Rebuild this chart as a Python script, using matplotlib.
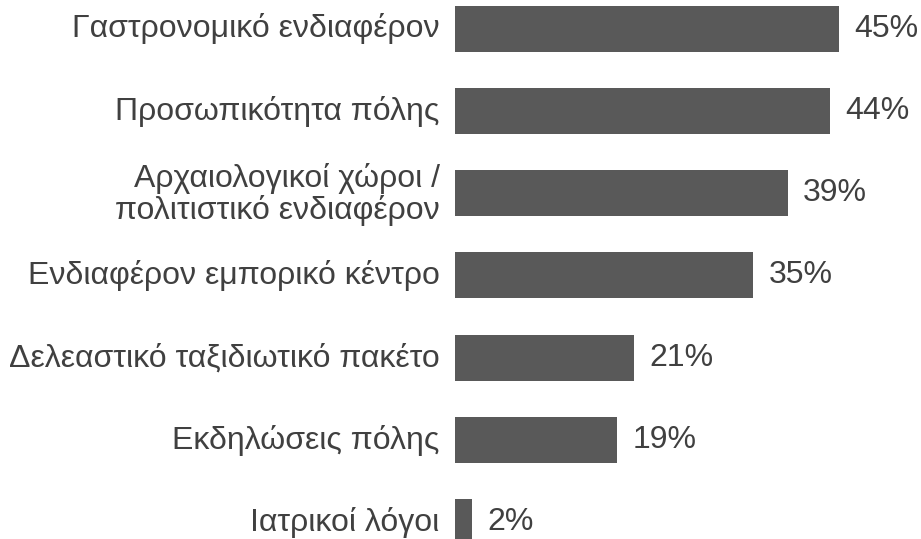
import matplotlib
matplotlib.use("Agg")
import matplotlib.pyplot as plt
import matplotlib.transforms as mtransforms

categories = [
    "Γαστρονομικό ενδιαφέρον",
    "Προσωπικότητα πόλης",
    "Αρχαιολογικοί χώροι /\nπολιτιστικό ενδιαφέρον",
    "Ενδιαφέρον εμπορικό κέντρο",
    "Δελεαστικό ταξιδιωτικό πακέτο",
    "Εκδηλώσεις πόλης",
    "Ιατρικοί λόγοι",
]
values = [45, 44, 39, 35, 21, 19, 2]
value_labels = ["45%", "44%", "39%", "35%", "21%", "19%", "2%"]

plt.rcParams['font.family'] = ['Liberation Sans', 'DejaVu Sans']

W, H = 921, 539
fig = plt.figure(figsize=(W / 100, H / 100), dpi=100)
left_px = 455
ax = fig.add_axes([left_px / W, 0, 1 - left_px / W, 1])

bar_color = "#595959"
text_color = "#404040"

step = 82.3
first = 28.5
pos = list(range(len(categories)))
ax.barh(pos, values, height=46 / step, color=bar_color)
ax.set_xlim(0, (W - left_px) / 8.527)
ax.set_ylim((H - first) / step, -first / step)

ax.set_yticks(pos)
ax.set_yticklabels(categories, fontsize=23, color=text_color, linespacing=1.05)
ax.tick_params(axis='y', length=0, pad=11)
ax.set_xticks([])
for s in ax.spines.values():
    s.set_visible(False)

shift = mtransforms.ScaledTranslation(0, 3 / 100, fig.dpi_scale_trans)
for lab in ax.get_yticklabels():
    lab.set_transform(lab.get_transform() + shift)

for p, v, lab in zip(pos, values, value_labels):
    ax.annotate(lab, xy=(v, p), xytext=(11, 0), textcoords='offset points',
                ha='left', va='center', fontsize=23, color=text_color,
                annotation_clip=False)

fig.savefig("out.png", dpi=100)
